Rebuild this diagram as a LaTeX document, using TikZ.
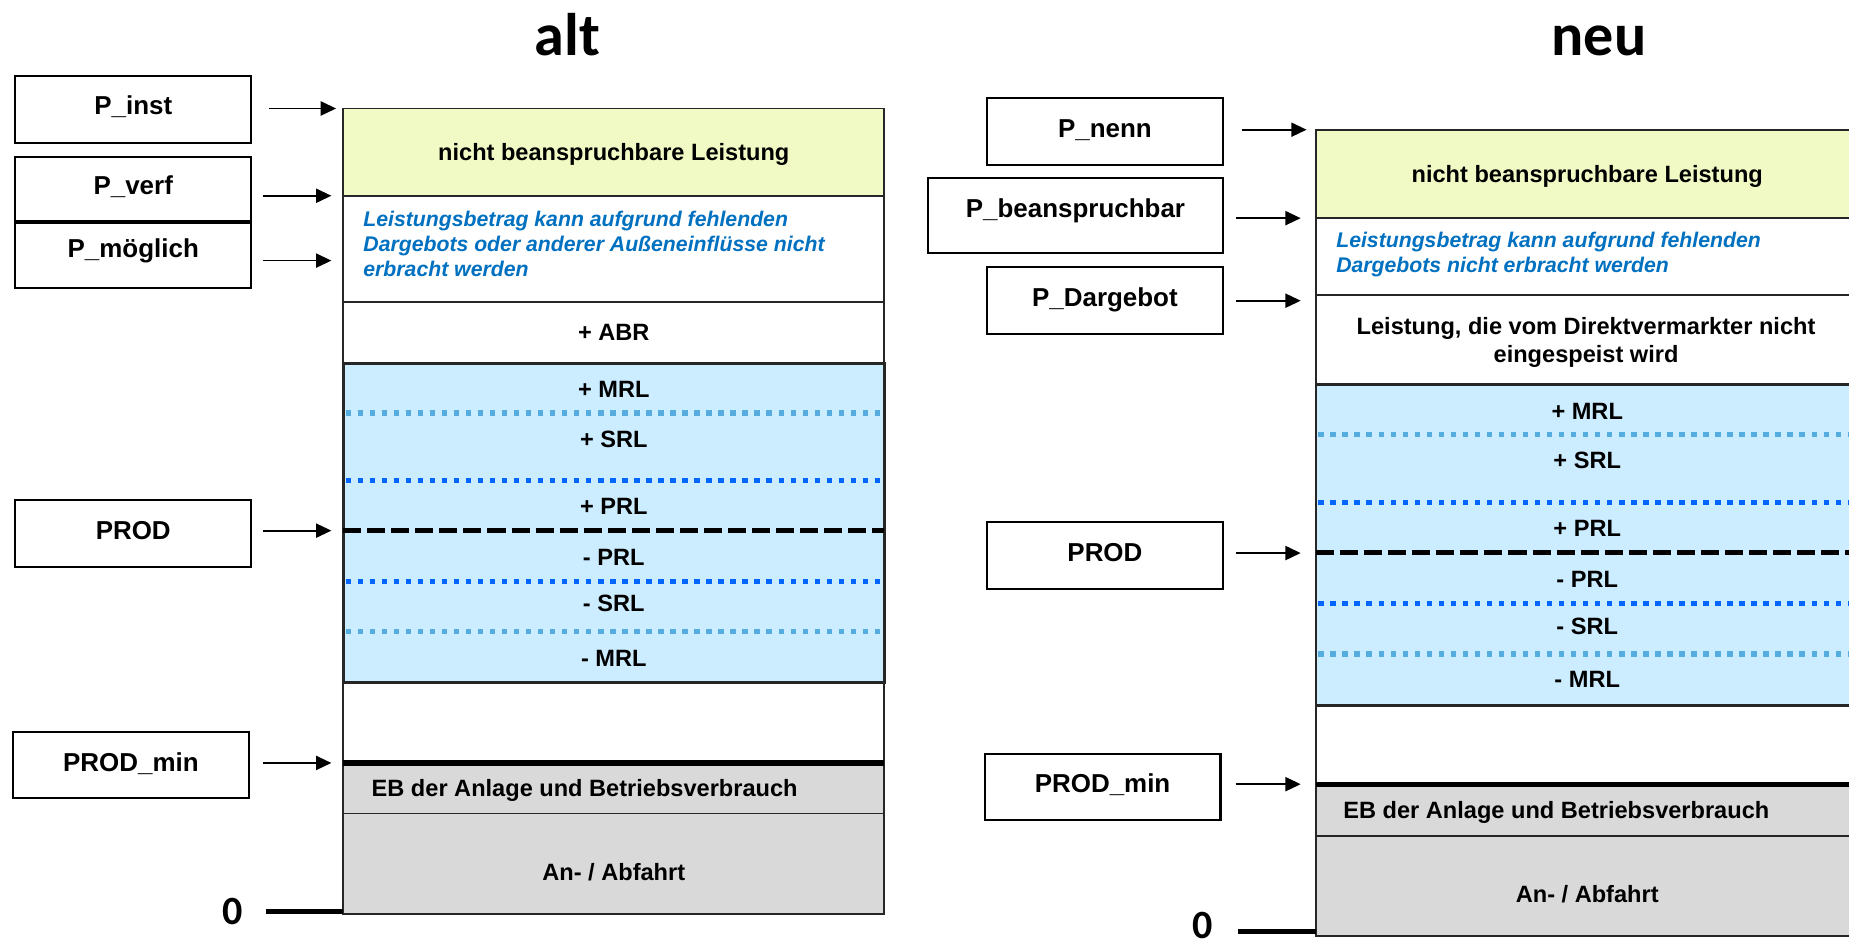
\documentclass[tikz,border=0pt]{standalone}
\usepackage{fontspec}
\setmainfont{Liberation Sans}
\newfontfamily\headfont{Carlito}
\usetikzlibrary{calc,arrows.meta}
\definecolor{yellowfill}{HTML}{F1FAC4}
\definecolor{bluefill}{HTML}{CCECFF}
\definecolor{grayfill}{HTML}{D9D9D9}
\definecolor{noteblue}{HTML}{0070C0}
\definecolor{dotlight}{HTML}{55ADDF}
\definecolor{dotdark}{HTML}{0066FF}

\begin{document}
\begin{tikzpicture}[x=1pt,y=-1pt,
  lblbox/.style={draw=black, line width=1.7pt, minimum width=200pt, minimum height=56pt,
    inner sep=0pt, font=\fontsize{22}{26}\selectfont\bfseries, text height=15.8pt, text depth=6pt},
  coltext/.style={font=\fontsize{20}{24}\selectfont\bfseries, inner sep=0pt,
    text height=14.3pt, text depth=0pt},
  twoline/.style={font=\fontsize{20}{24}\selectfont\bfseries, inner sep=0pt, align=center},
  note/.style={font=\fontsize{18}{21}\selectfont\bfseries\itshape, text=noteblue,
    inner sep=0pt, align=left, anchor=north west},
  headline/.style={font=\headfont\fontsize{51}{60}\selectfont\bfseries, inner sep=0pt},
  zerolbl/.style={font=\headfont\fontsize{34}{40}\selectfont\bfseries, inner sep=0pt},
  arr/.style={line width=1.5pt, -{Triangle[length=13pt,width=12pt]}},
  outline/.style={draw=black!85, line width=1.6pt},
  lightdots/.style={draw=dotlight, line width=4.6pt, dash pattern=on 4.6pt off 5.6pt},
  darkdots/.style={draw=dotdark, line width=4.6pt, dash pattern=on 4.6pt off 5.6pt},
  proddash/.style={draw=black, line width=4.4pt, dash pattern=on 15.3pt off 5.1pt},
  minline/.style={draw=black, line width=4.5pt},
  zeroline/.style={draw=black, line width=4.5pt},
]
\useasboundingbox (0,0) rectangle (1568,802);
\clip (0,0) rectangle (1568,802);

% ---------------- alt ----------------
\node[headline] (talt) at (481,29) {alt};

% stacked column
\fill[yellowfill] (291,92) rectangle (750,166);
\fill[bluefill] (291,308) rectangle (750,579);
\fill[grayfill] (291,647) rectangle (750,775);
\draw[outline] (291,92) rectangle (750,775);
\draw[outline] (291,166) -- (750,166);
\draw[outline] (291,256) -- (750,256);
\draw[outline, line width=2.4pt] (291,308) rectangle (750,579);
\draw[outline, line width=1.4pt] (291,690) -- (750,690);
\draw[lightdots] (293,350.3) -- (750,350.3);
\draw[darkdots] (293,407.6) -- (750,407.6);
\draw[proddash] (291,450) -- (750,450);
\draw[darkdots] (293,493.3) -- (750,493.3);
\draw[lightdots] (293,535.7) -- (750,535.7);
\draw[minline] (291,647) -- (750,647);

\node[coltext] (a-nb) at (520.5,129) {nicht beanspruchbare Leistung};
\node[note] (a-note) at (308,179.1) {Leistungsbetrag kann aufgrund fehlenden\\Dargebots oder anderer Außeneinflüsse nicht\\erbracht werden};
\node[coltext] (a-abr) at (520.5,281.8) {+ ABR};
\node[coltext] (a-mrlp) at (520.5,329.9) {+ MRL};
\node[coltext] (a-srlp) at (520.5,372.6) {+ SRL};
\node[coltext] (a-prlp) at (520.5,428.8) {+ PRL};
\node[coltext] (a-prlm) at (520.5,472) {- PRL};
\node[coltext] (a-srlm) at (520.5,511.7) {- SRL};
\node[coltext] (a-mrlm) at (520.5,557.7) {- MRL};
\node[coltext, anchor=west] (a-eb) at (315,668.5) {EB der Anlage und Betriebsverbrauch};
\node[coltext] (a-an) at (520.5,739.8) {An- / Abfahrt};

% labels on the left
\node[lblbox, minimum height=57pt] (pinst) at (113,92.6) {P\_inst};
\node[lblbox, minimum height=54pt] (pverf) at (113,160) {P\_verf};
\node[lblbox, minimum height=55pt, text depth=12pt] (pmog) at (113,216.7) {P\_möglich};
\node[lblbox, minimum height=57pt] (pprod) at (113,452.3) {PROD};
\node[lblbox] (pmin) at (111,649) {PROD\_min};

\coordinate (tinst) at (285,92);
\coordinate (tverf) at (281,166);
\coordinate (tmog) at (281,221);
\coordinate (tprod) at (281,450);
\coordinate (tmin) at (281,647);
\draw[arr] ($(pinst.east |- tinst)+(14,0)$) -- (tinst);
\draw[arr] ($(pverf.east |- tverf)+(9,0)$) -- (tverf);
\draw[arr] ($(pmog.east |- tmog)+(9,0)$) -- (tmog);
\draw[arr] ($(pprod.east |- tprod)+(9,0)$) -- (tprod);
\draw[arr] ($(pmin.east |- tmin)+(11,0)$) -- (tmin);

\node[zerolbl] (zalt) at (197,773) {0};
\coordinate (zaltend) at (291,773);
\draw[zeroline] ($(zalt.east |- zaltend)+(20,0)$) -- (zaltend);

% ---------------- neu ----------------
\node[headline] (tneu) at (1356,34.6) {neu};

\fill[yellowfill] (1116,110) rectangle (1575,185);
\fill[bluefill] (1116,326) rectangle (1575,598);
\fill[grayfill] (1116,665) rectangle (1575,794);
\draw[outline] (1116,110) rectangle (1575,794);
\draw[outline] (1116,185) -- (1575,185);
\draw[outline] (1116,250) -- (1575,250);
\draw[outline, line width=2.4pt] (1116,326) rectangle (1575,598);
\draw[outline, line width=1.4pt] (1116,709) -- (1575,709);
\draw[lightdots] (1118,368.5) -- (1575,368.5);
\draw[darkdots] (1118,426) -- (1575,426);
\draw[proddash] (1116,468.7) -- (1575,468.7);
\draw[darkdots] (1118,511.6) -- (1575,511.6);
\draw[lightdots] (1118,554.6) -- (1575,554.6);
\draw[minline] (1116,665.5) -- (1575,665.5);

\node[coltext] (n-nb) at (1346,147.8) {nicht beanspruchbare Leistung};
\node[note] (n-note) at (1133,196.9) {Leistungsbetrag kann aufgrund fehlenden\\Dargebots nicht erbracht werden};
\node[twoline] (n-dv) at (1345,290.2) {Leistung, die vom Direktvermarkter nicht\\eingespeist wird};
\node[coltext] (n-mrlp) at (1346,348.5) {+ MRL};
\node[coltext] (n-srlp) at (1346,390) {+ SRL};
\node[coltext] (n-prlp) at (1346,447.5) {+ PRL};
\node[coltext] (n-prlm) at (1346,490.7) {- PRL};
\node[coltext] (n-srlm) at (1346,530.6) {- SRL};
\node[coltext] (n-mrlm) at (1346,575.8) {- MRL};
\node[coltext, anchor=west] (n-eb) at (1139,687) {EB der Anlage und Betriebsverbrauch};
\node[coltext] (n-an) at (1346,758.4) {An- / Abfahrt};

% labels on the right
\node[lblbox, minimum height=56.5pt] (pnenn) at (937,111.7) {P\_nenn};
\node[lblbox, minimum width=250pt, minimum height=63pt, text depth=12pt] (pbean) at (912,182.8) {P\_beanspruchbar};
\node[lblbox, minimum height=57pt] (pdarg) at (937,255.1) {P\_Dargebot};
\node[lblbox, minimum height=57pt] (pprod2) at (937,471) {PROD};
\node[lblbox] (pmin2) at (935,667.4) {PROD\_min};

\coordinate (tnenn) at (1108,110);
\coordinate (tbean) at (1103,185);
\coordinate (tdarg) at (1103,255);
\coordinate (tprod2) at (1103,469);
\coordinate (tmin2) at (1103,665);
\draw[arr] ($(pnenn.east |- tnenn)+(15,0)$) -- (tnenn);
\draw[arr] ($(pbean.east |- tbean)+(10,0)$) -- (tbean);
\draw[arr] ($(pdarg.east |- tdarg)+(10,0)$) -- (tdarg);
\draw[arr] ($(pprod2.east |- tprod2)+(10,0)$) -- (tprod2);
\draw[arr] ($(pmin2.east |- tmin2)+(12,0)$) -- (tmin2);

\node[zerolbl] (zneu) at (1020,785) {0};
\coordinate (zneuend) at (1116,790);
\draw[zeroline] ($(zneu.east |- zneuend)+(21,0)$) -- (zneuend);
\end{tikzpicture}
\end{document}
